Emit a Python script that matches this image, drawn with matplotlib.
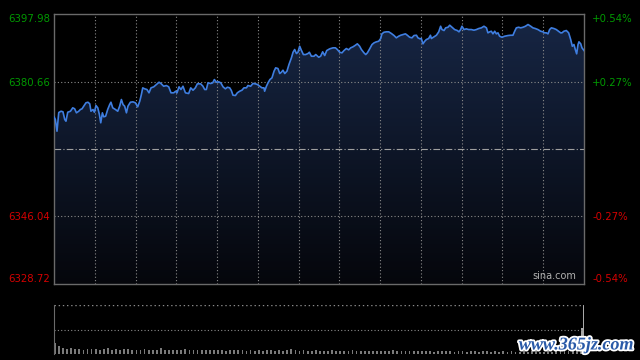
import matplotlib
matplotlib.use("Agg")
import matplotlib.pyplot as plt
import matplotlib.patheffects as pe
import numpy as np

# intraday index (minutes after open, price)
t = [0, 1.0, 2.2, 3.5, 5.2, 6.6, 7.9, 8.8, 10.1, 12.1, 13.8, 15.2, 16.5, 18.2, 19.4, 20.6,
     21.9, 23.5, 25.0, 26.3, 27.2, 28.7, 29.7, 30.9, 32.2, 33.4, 34.4, 35.6, 36.6, 38.0,
     39.5, 41.0, 41.9, 43.2, 45.2, 46.9, 48.3, 49.6, 50.8, 52.0, 53.3, 54.4, 56.2, 58.1,
     59.9, 61.6, 63.1, 64.3, 65.3, 66.7, 68.4, 69.9, 71.4, 73.4, 75.3, 77.3, 78.7, 80.7,
     82.7, 84.4, 86.1, 88.1, 89.5, 90.5, 92.0, 93.4, 94.9, 96.7, 99.1, 100.6, 102.3, 104.0,
     105.5, 107.9, 109.6, 110.9, 112.1, 113.3, 115.3, 116.8, 118.0, 119.5, 121.2, 122.7,
     124.4, 126.1, 127.6, 129.3, 130.5, 131.7, 133.5, 134.9, 136.6, 138.3, 139.8, 141.6,
     142.7, 144.7, 146.4, 148.2, 149.7, 151.4, 153.0, 154.5, 155.0, 156.3, 157.5, 158.9,
     160.4, 161.9, 163.1, 164.8, 166.1, 167.3, 168.5, 169.8, 171.4, 172.9, 174.7, 175.9,
     177.1, 178.4, 179.5, 180.8, 182.0, 183.5, 185.2, 186.9, 187.9, 189.4, 191.3, 192.6,
     194.8, 196.2, 197.7, 199.2, 200.7, 202.9, 205.3, 207.1, 208.5, 210.2, 211.9, 213.4,
     215.1, 216.8, 218.3, 220.0, 221.8, 223.2, 224.9, 226.2, 228.1, 229.4, 230.6, 232.3,
     234.0, 235.5, 237.2, 238.9, 240.4, 241.3, 242.8, 244.6, 246.3, 248.3, 250.2, 251.9,
     253.6, 255.1, 256.8, 258.6, 260.0, 261.7, 263.4, 264.9, 266.7, 267.8, 269.3, 270.3,
     271.5, 272.8, 274.0, 275.7, 277.0, 277.7, 279.6, 281.4, 283.1, 284.5, 285.5, 287.0,
     288.2, 289.9, 291.2, 292.9, 294.8, 296.8, 298.0, 299.2, 300.2, 301.7, 303.4, 305.1,
     307.1, 309.0, 310.8, 312.5, 314.5, 316.4, 318.2, 319.3, 320.6, 321.8, 323.0, 324.3,
     325.5, 326.7, 327.9, 329.6, 331.6, 334.1, 336.0, 337.7, 339.0, 340.2, 341.9, 343.4,
     345.1, 346.9, 348.8, 350.8, 352.4, 354.2, 356.1, 358.1, 359.8, 361.0, 362.3, 363.5,
     364.7, 366.0, 367.9, 369.6, 371.3, 372.8, 373.8, 375.2, 377.0, 378.7, 380.2, 381.4,
     382.6, 383.6, 384.6, 385.6, 386.3, 387.6, 388.5, 390]
price = [6371.61, 6370.92, 6367.91, 6372.71, 6373.04, 6372.89, 6370.92, 6370.48, 6372.79,
         6373.04, 6373.92, 6373.66, 6372.63, 6373.04, 6373.48, 6373.66, 6374.33, 6375.20,
         6375.35, 6374.94, 6373.04, 6373.48, 6372.79, 6374.51, 6373.92, 6372.20, 6370.07,
         6372.63, 6371.61, 6371.76, 6373.48, 6374.76, 6375.35, 6373.92, 6373.48, 6373.04,
         6374.33, 6376.04, 6374.76, 6374.33, 6372.63, 6374.33, 6375.35, 6375.45, 6375.20,
         6374.17, 6375.61, 6377.33, 6379.04, 6378.79, 6378.61, 6377.76, 6379.04, 6379.30,
         6379.89, 6380.48, 6380.15, 6379.45, 6379.63, 6379.30, 6377.76, 6377.76, 6378.17,
         6377.76, 6379.30, 6378.61, 6379.45, 6377.76, 6377.58, 6379.04, 6378.43, 6379.04,
         6380.07, 6380.07, 6379.45, 6378.61, 6378.61, 6380.33, 6380.15, 6380.33, 6381.17,
         6380.48, 6380.58, 6380.33, 6379.30, 6378.79, 6379.20, 6379.04, 6378.35, 6377.15,
         6377.07, 6377.76, 6378.17, 6378.43, 6379.04, 6379.04, 6379.63, 6379.45, 6380.15,
         6380.07, 6379.89, 6379.45, 6379.04, 6379.04, 6378.17, 6379.45, 6380.33, 6381.17,
         6381.61, 6383.30, 6384.17, 6383.99, 6382.71, 6383.04, 6383.56, 6382.71, 6383.30,
         6385.02, 6386.74, 6388.17, 6388.87, 6387.84, 6388.17, 6389.71, 6388.69, 6387.58,
         6387.58, 6387.84, 6388.17, 6387.15, 6387.15, 6387.58, 6386.89, 6387.15, 6388.28,
         6387.33, 6388.61, 6389.05, 6389.30, 6389.30, 6388.87, 6388.17, 6388.02, 6388.61,
         6389.12, 6388.79, 6389.30, 6389.56, 6389.97, 6390.33, 6389.71, 6388.87, 6388.02,
         6387.58, 6388.02, 6389.05, 6390.15, 6390.58, 6390.84, 6390.99, 6391.69, 6392.89,
         6393.30, 6393.41, 6393.41, 6392.97, 6392.46, 6391.87, 6392.28, 6392.53, 6392.71,
         6392.89, 6392.53, 6392.02, 6391.87, 6392.46, 6392.53, 6391.87, 6391.61, 6391.69,
         6390.33, 6390.99, 6391.43, 6391.69, 6392.53, 6391.69, 6392.12, 6392.53, 6393.41,
         6394.84, 6393.99, 6393.74, 6394.43, 6394.58, 6395.10, 6394.58, 6393.99, 6393.74,
         6393.41, 6393.99, 6394.84, 6393.99, 6394.17, 6393.99, 6393.99, 6393.82, 6393.99,
         6394.25, 6394.43, 6394.84, 6394.43, 6393.15, 6393.41, 6393.56, 6392.89, 6393.56,
         6392.89, 6393.15, 6392.28, 6392.02, 6392.28, 6392.46, 6392.53, 6392.53, 6393.56,
         6394.43, 6394.58, 6394.43, 6394.58, 6394.84, 6395.28, 6394.84, 6394.43, 6394.25,
         6393.99, 6393.56, 6393.41, 6393.15, 6393.15, 6392.89, 6393.99, 6394.43, 6394.25,
         6393.99, 6393.56, 6393.15, 6393.15, 6393.56, 6393.74, 6393.15, 6391.43, 6389.71,
         6390.15, 6388.87, 6387.76, 6390.15, 6390.84, 6390.33, 6389.30, 6388.61]

# relative volume, one bar every 3 minutes, then the closing minutes
vol_t = list(range(0, 387, 3)) + [387, 388.0, 389.0]
vol = [22, 17, 13, 11, 12, 10, 11, 9, 10, 10, 11, 9, 10, 12, 9, 10, 9, 11, 10, 9,
       9, 8, 10, 9, 8, 9, 12, 8, 9, 8, 9, 8, 10, 9, 8, 9, 8, 8, 9, 8,
       8, 9, 7, 8, 8, 9, 8, 7, 8, 7, 8, 7, 8, 9, 7, 8, 7, 9, 11, 8,
       7, 8, 7, 7, 8, 7, 6, 7, 8, 7, 6, 7, 7, 8, 6, 7, 7, 6, 7, 6,
       7, 6, 7, 8, 6, 6, 7, 6, 7, 6, 6, 7, 6, 5, 6, 7, 6, 6, 5, 6,
       6, 5, 6, 7, 5, 6, 6, 5, 6, 5, 6, 5, 6, 5, 5, 6, 5, 6, 7, 5,
       5, 6, 5, 6, 7, 6, 6, 7, 8, 10, 53, 100]

prev_close = 6363.35
y_ticks = [6328.72, 6346.04, 6380.66, 6397.98]
pct_labels = ["-0.54%", "-0.27%", "+0.27%", "+0.54%"]
green = "#009a00"
red = "#d40000"

fig = plt.figure(figsize=(6.4, 3.6), dpi=100, facecolor="black")
ax = fig.add_axes([54 / 640, 1 - 284 / 360, 530 / 640, 270 / 360], facecolor="black")
ymin, ymax = y_ticks[0], y_ticks[-1]
ax.set_xlim(0, 390)
ax.set_ylim(ymin, ymax)

# gradient fill under the line
fill = ax.fill_between(t, price, ymin, color="none", lw=0)
grad = np.linspace(0, 1, 256).reshape(-1, 1)
bot = np.array([0.02, 0.025, 0.045])
top = np.array([0.09, 0.15, 0.27])
img = bot + (top - bot) * grad[..., None]
im = ax.imshow(img, extent=[0, 390, ymin, ymax], origin="lower", aspect="auto", zorder=1)
im.set_clip_path(fill.get_paths()[0], transform=ax.transData)
ax.plot(t, price, color="#3f7ee0", lw=1.2, zorder=3)

for x in range(30, 390, 30):
    ax.axvline(x, color="#8a8a8a", lw=0.8, ls=(0, (1, 2)), zorder=2)
for y in y_ticks[1:3]:
    ax.axhline(y, color="#8a8a8a", lw=0.8, ls=(0, (1, 2)), zorder=2)
ax.axhline(prev_close, color="#a0a0a0", lw=0.8, ls=(0, (6, 2, 1, 2)), zorder=2)

for s in ax.spines.values():
    s.set_color("#6a6a6a")
    s.set_linewidth(1)
ax.set_xticks([])
ax.set_yticks(y_ticks)
ax.set_yticklabels([f"{v:.2f}" for v in y_ticks], fontsize=7.3)
ax.tick_params(axis="y", length=0, pad=3)
ax2 = ax.twinx()
ax2.set_ylim(ymin, ymax)
ax2.set_yticks(y_ticks)
ax2.set_yticklabels(pct_labels, fontsize=7.3)
ax2.tick_params(axis="y", length=0, pad=6)
for s in ax2.spines.values():
    s.set_visible(False)
for a in (ax, ax2):
    labs = a.get_yticklabels()
    for i, lab in enumerate(labs):
        lab.set_color(red if i < 2 else green)
    labs[0].set_va("bottom")
    labs[-1].set_va("top")

ax.text(0.985, 0.012, "sina.com", transform=ax.transAxes, ha="right", va="bottom",
        color="#b0b0b0", fontsize=7, zorder=4)

# volume panel
axv = fig.add_axes([54 / 640, 1 - 354 / 360, 530 / 640, 49 / 360], facecolor="black")
axv.set_xlim(0, 390)
axv.set_ylim(0, 100)
axv.bar(vol_t[:-2], vol[:-2], width=1.3, color="#7a7a7a", align="edge")
axv.bar(vol_t[-2:], vol[-2:], width=0.9, color="#a8a8a8", align="edge")
axv.axhline(50, color="#8a8a8a", lw=0.8, ls=(0, (1, 2)))
axv.axhline(100, color="#8a8a8a", lw=1.0, ls=(0, (1, 2)))
for k in ("top", "right", "bottom"):
    axv.spines[k].set_visible(False)
axv.spines["left"].set_color("#6a6a6a")
axv.set_xticks([])
axv.set_yticks([])

fig.text(576 / 640, 1 - 345 / 360, "www.365jz.com", ha="center", va="center",
         fontsize=13, fontweight="bold", fontstyle="italic", family="Liberation Serif",
         color="#2a5aa8", path_effects=[pe.withStroke(linewidth=2.6, foreground="white")])

fig.savefig("out.png", dpi=100, facecolor="black")
